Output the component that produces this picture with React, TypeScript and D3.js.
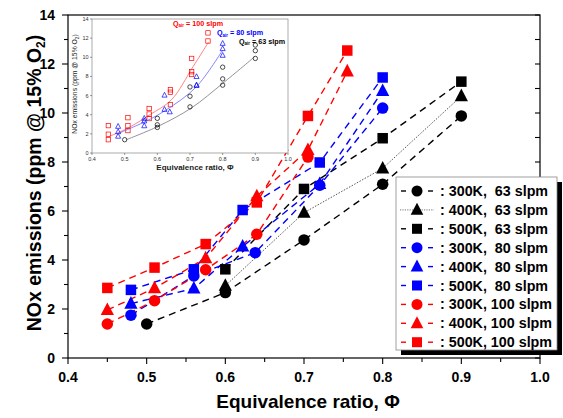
import React from "react";
import * as d3 from "d3";

// ---- Data ----
const xK300_63 = [0.5, 0.6, 0.7, 0.8, 0.9];
const yK300_63 = [1.39, 2.67, 4.82, 7.09, 9.88];
const xK400_63 = [0.6, 0.7, 0.8, 0.9];
const yK400_63 = [2.95, 5.93, 7.74, 10.69];
const xK500_63 = [0.6, 0.7, 0.8, 0.9];
const yK500_63 = [3.62, 6.9, 8.97, 11.28];

const xK300_80 = [0.48, 0.56, 0.638, 0.72, 0.8];
const yK300_80 = [1.75, 3.35, 4.3, 7.05, 10.2];
const xK400_80 = [0.48, 0.56, 0.622, 0.72, 0.8];
const yK400_80 = [2.22, 2.84, 4.55, 7.1, 10.9];
const xK500_80 = [0.48, 0.56, 0.622, 0.72, 0.8];
const yK500_80 = [2.78, 3.62, 6.04, 7.98, 11.45];

const xK300_100 = [0.45, 0.51, 0.575, 0.64, 0.705];
const yK300_100 = [1.39, 2.34, 3.6, 5.05, 8.2];
const xK400_100 = [0.45, 0.51, 0.575, 0.64, 0.705, 0.755];
const yK400_100 = [1.96, 2.85, 4.07, 6.6, 8.49, 11.7];
const xK500_100 = [0.45, 0.51, 0.575, 0.64, 0.705, 0.755];
const yK500_100 = [2.86, 3.69, 4.65, 6.35, 9.88, 12.55];

// inset fit curves
const fit100X = [0.452, 0.51, 0.577, 0.643, 0.709, 0.757];
const fit100Y = [1.73, 2.6, 4.0, 5.55, 9.0, 11.6];
const fit80X = [0.483, 0.564, 0.627, 0.719, 0.8];
const fit80Y = [2.08, 3.3, 4.5, 6.9, 10.76];
const fit63X = [0.505, 0.602, 0.704, 0.801, 0.898];
const fit63Y = [1.39, 2.78, 4.7, 7.3, 10.06];

const xTicks = [0.4, 0.5, 0.6, 0.7, 0.8, 0.9, 1.0];
const yTicks = [0, 2, 4, 6, 8, 10, 12, 14];

type Shape = "circle" | "triangle" | "square";
interface Series {
  label: string;
  xs: number[];
  ys: number[];
  color: string;
  shape: Shape;
  dotted?: boolean;
}

const series: Series[] = [
  { label: ": 300K,  63 slpm", xs: xK300_63, ys: yK300_63, color: "#000000", shape: "circle" },
  { label: ": 400K,  63 slpm", xs: xK400_63, ys: yK400_63, color: "#000000", shape: "triangle", dotted: true },
  { label: ": 500K,  63 slpm", xs: xK500_63, ys: yK500_63, color: "#000000", shape: "square" },
  { label: ": 300K,  80 slpm", xs: xK300_80, ys: yK300_80, color: "#0000ff", shape: "circle" },
  { label: ": 400K,  80 slpm", xs: xK400_80, ys: yK400_80, color: "#0000ff", shape: "triangle" },
  { label: ": 500K,  80 slpm", xs: xK500_80, ys: yK500_80, color: "#0000ff", shape: "square" },
  { label: ": 300K, 100 slpm", xs: xK300_100, ys: yK300_100, color: "#ff0000", shape: "circle" },
  { label: ": 400K, 100 slpm", xs: xK400_100, ys: yK400_100, color: "#ff0000", shape: "triangle" },
  { label: ": 500K, 100 slpm", xs: xK500_100, ys: yK500_100, color: "#ff0000", shape: "square" },
];

const FONT = "'Liberation Sans', Arial, sans-serif";

function Marker({ shape, x, y, size, color, open }: { shape: Shape; x: number; y: number; size: number; color: string; open?: boolean }) {
  const fill = open ? "none" : color;
  const stroke = open ? color : "none";
  const sw = open ? 0.7 : 0;
  if (shape === "circle") return <circle cx={x} cy={y} r={size / 2} fill={fill} stroke={stroke} strokeWidth={sw} />;
  if (shape === "square") return <rect x={x - size / 2} y={y - size / 2} width={size} height={size} fill={fill} stroke={stroke} strokeWidth={sw} />;
  const h = size * 1.05;
  const w = size * 1.15;
  return <polygon points={`${x},${y - h * 0.62} ${x - w / 2},${y + h * 0.42} ${x + w / 2},${y + h * 0.42}`} fill={fill} stroke={stroke} strokeWidth={sw} />;
}

export default function App() {
  const W = 563, H = 418;
  const L = 68, R = 540, T = 15, B = 358;
  const x = d3.scaleLinear().domain([0.4, 1.0]).range([L, R]);
  const y = d3.scaleLinear().domain([0, 14]).range([B, T]);

  // inset
  const iL = 92, iR = 288, iT = 19, iB = 153;
  const ix = d3.scaleLinear().domain([0.4, 1.0]).range([iL, iR]);
  const iy = d3.scaleLinear().domain([0, 14]).range([iB, iT]);

  const line = d3.line<[number, number]>().x((d) => x(d[0])).y((d) => y(d[1]));
  const fitLine = d3.line<[number, number]>().x((d) => ix(d[0])).y((d) => iy(d[1])).curve(d3.curveCatmullRom);

  const minorX = d3.range(0, 13).map((i) => 0.4 + i * 0.05);
  const minorY = d3.range(0, 15);

  const insetGroups = [
    { color: "#ff0000", shape: "square" as Shape, sets: [6, 7, 8], fx: fit100X, fy: fit100Y, fitColor: "#ff6666" },
    { color: "#0000ff", shape: "triangle" as Shape, sets: [3, 4, 5], fx: fit80X, fy: fit80Y, fitColor: "#6666ff" },
    { color: "#000000", shape: "circle" as Shape, sets: [0, 1, 2], fx: fit63X, fy: fit63Y, fitColor: "#777777" },
  ];

  // legend
  const lgL = 396, lgT = 177, lgW = 161, lgH = 173, rowY0 = 191, rowDy = 18.9;

  return (
    <svg width={W} height={H} style={{ position: "absolute", left: 0, top: 0, background: "#fff" }} fontFamily={FONT}>
      <rect width={W} height={H} fill="#fff" />
      {/* series lines */}
      {series.map((s, i) => (
        <path
          key={"l" + i}
          d={line(s.xs.map((v, j) => [v, s.ys[j]] as [number, number])) || ""}
          fill="none"
          stroke={s.dotted ? "#555" : s.color}
          strokeWidth={s.dotted ? 1 : 1.4}
          strokeDasharray={s.dotted ? "1.5,1.5" : "7,5"}
        />
      ))}
      {/* markers */}
      {series.map((s, i) =>
        s.xs.map((v, j) => (
          <Marker key={"m" + i + "-" + j} shape={s.shape} x={x(v)} y={y(s.ys[j])} size={s.shape === "square" ? 10.5 : 11.5} color={s.color} />
        ))
      )}

      {/* inset */}
      <rect x={iL} y={iT} width={iR - iL} height={iB - iT} fill="#fff" stroke="#888" strokeWidth={0.7} />
      {insetGroups.map((g, gi) => (
        <g key={"ig" + gi}>
          <path d={fitLine(g.fx.map((v, j) => [v, g.fy[j]] as [number, number])) || ""} fill="none" stroke={g.fitColor} strokeWidth={0.8} />
          {g.sets.map((si) =>
            series[si].xs.map((v, j) => (
              <Marker key={"im" + si + "-" + j} shape={g.shape} x={ix(v)} y={iy(series[si].ys[j])} size={4.4} color={g.color} open />
            ))
          )}
        </g>
      ))}
      {xTicks.map((t) => (
        <g key={"ixt" + t}>
          <line x1={ix(t)} x2={ix(t)} y1={iB} y2={iB + 2} stroke="#555" strokeWidth={0.6} />
          <text x={ix(t)} y={iB + 8} fontSize={5.5} textAnchor="middle" fill="#333">{t.toFixed(1)}</text>
        </g>
      ))}
      {yTicks.map((t) => (
        <g key={"iyt" + t}>
          <line x1={iL - 2} x2={iL} y1={iy(t)} y2={iy(t)} stroke="#555" strokeWidth={0.6} />
          <text x={iL - 3.5} y={iy(t) + 2} fontSize={5.5} textAnchor="end" fill="#333">{t}</text>
        </g>
      ))}
      <text x={(iL + iR) / 2 + 5} y={170} fontSize={8} fontWeight="bold" textAnchor="middle" fill="#222">Equivalence ratio, Φ</text>
      <text transform={`translate(${77},${(iT + iB) / 2 - 2}) rotate(-90)`} fontSize={6.8} textAnchor="middle" fill="#222">
        NOx emissions (ppm @ 15% O<tspan fontSize={4.5} dy={1.5}>2</tspan><tspan dy={-1.5}>)</tspan>
      </text>
      <text x={173} y={25.5} fontSize={7.2} fontWeight="bold" fill="#ff0000">Q<tspan fontSize={4.5} dy={1.5}>air</tspan><tspan dy={-1.5}> = 100 slpm</tspan></text>
      <text x={217} y={35} fontSize={7.2} fontWeight="bold" fill="#0000ff">Q<tspan fontSize={4.5} dy={1.5}>air</tspan><tspan dy={-1.5}> = 80 slpm</tspan></text>
      <text x={239} y={43.5} fontSize={7.2} fontWeight="bold" fill="#000">Q<tspan fontSize={4.5} dy={1.5}>air</tspan><tspan dy={-1.5}> = 63 slpm</tspan></text>

      {/* main axes frame */}
      <rect x={L} y={T} width={R - L} height={B - T} fill="none" stroke="#000" strokeWidth={1.2} />
      {minorX.map((t, i) => (
        <line key={"mx" + i} x1={x(t)} x2={x(t)} y1={B} y2={B + (i % 2 === 0 ? 6 : 4)} stroke="#000" strokeWidth={1.1} />
      ))}
      {minorY.map((t) => (
        <g key={"my" + t}>
          <line x1={L - (t % 2 === 0 ? 6 : 4)} x2={L} y1={y(t)} y2={y(t)} stroke="#000" strokeWidth={1.1} />
          <line x1={R - 5} x2={R} y1={y(t)} y2={y(t)} stroke="#000" strokeWidth={1.1} />
        </g>
      ))}
      {xTicks.map((t) => (
        <text key={"xt" + t} x={x(t)} y={382} fontSize={14} fontWeight="bold" textAnchor="middle" fill="#000">{t.toFixed(1)}</text>
      ))}
      {yTicks.map((t) => (
        <text key={"yt" + t} x={55} y={y(t) + 5} fontSize={14} fontWeight="bold" textAnchor="end" fill="#000">{t}</text>
      ))}
      <text x={308} y={408} fontSize={19} fontWeight="bold" textAnchor="middle" fill="#000">Equivalence ratio, Φ</text>
      <text transform={`translate(${41},${183}) rotate(-90)`} fontSize={19.5} fontWeight="bold" textAnchor="middle" fill="#000">
        NOx emissions (ppm @ 15% O<tspan fontSize={12} dy={4}>2</tspan><tspan dy={-4}>)</tspan>
      </text>

      {/* legend */}
      <rect x={lgL + 5} y={lgT + 5} width={lgW} height={lgH} fill="#000" />
      <rect x={lgL} y={lgT} width={lgW} height={lgH} fill="#fff" stroke="#888" strokeWidth={0.8} />
      {series.map((s, i) => {
        const ry = rowY0 + i * rowDy;
        return (
          <g key={"lg" + i}>
            {s.dotted ? (
              <line x1={400} x2={434} y1={ry} y2={ry} stroke="#777" strokeWidth={1} strokeDasharray="1.2,1.2" />
            ) : (
              <g>
                <line x1={401} x2={406} y1={ry} y2={ry} stroke={s.color} strokeWidth={1.4} />
                <line x1={428} x2={433} y1={ry} y2={ry} stroke={s.color} strokeWidth={1.4} />
              </g>
            )}
            <Marker shape={s.shape} x={417} y={ry} size={s.shape === "square" ? 10 : 11} color={s.color} />
            <text x={440} y={ry + 5} fontSize={14.3} fontWeight="bold" fill="#000" style={{ whiteSpace: "pre" }}>{s.label}</text>
          </g>
        );
      })}
    </svg>
  );
}
